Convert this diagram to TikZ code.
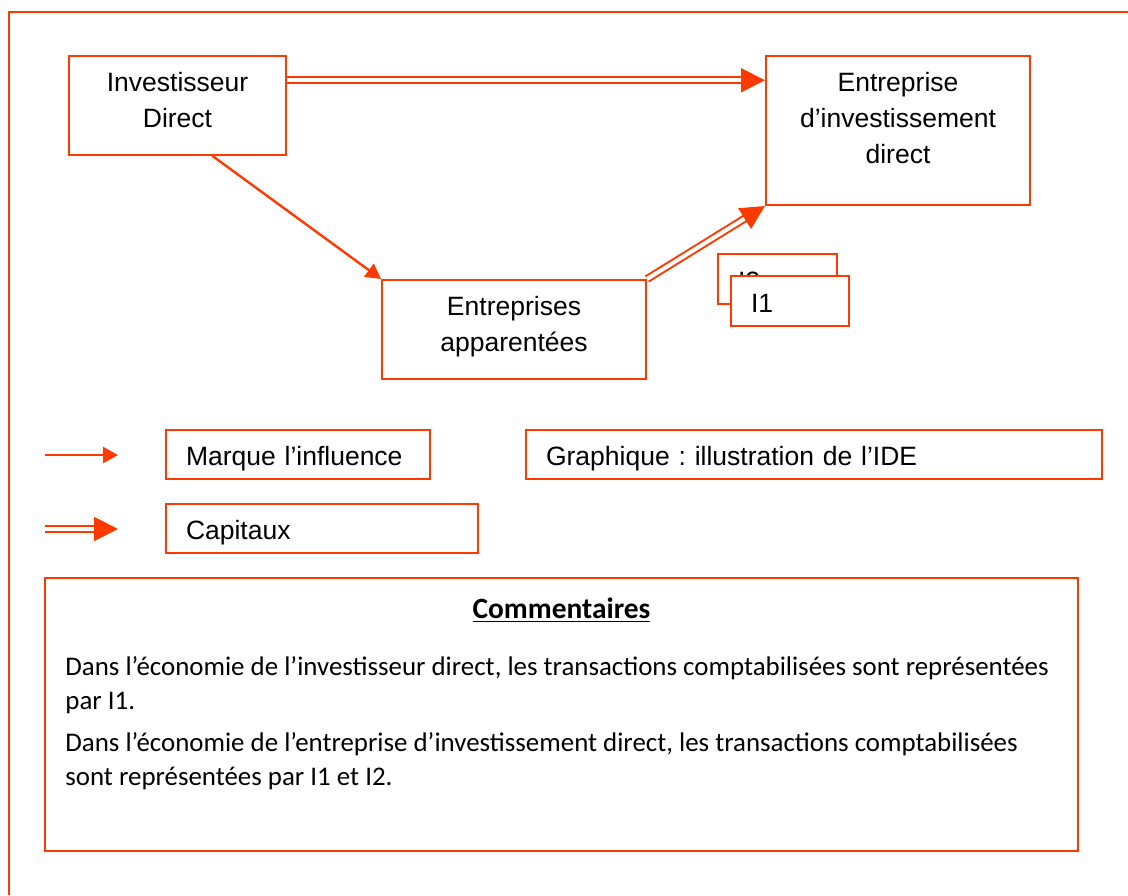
\documentclass[tikz,border=0pt]{standalone}
\usepackage{fontspec}
\setmainfont{Liberation Sans}
\newfontfamily\calibri{Carlito}
\usetikzlibrary{arrows.meta,calc,positioning}
\definecolor{ideorange}{RGB}{255,58,0}
\tikzset{
  boite/.style={draw=ideorange, line width=1pt, fill=white, inner sep=0pt},
  texte/.style={inner sep=0pt, align=center, font=\fontsize{13.25}{18}\selectfont},
  legende/.style={boite, texte, align=left, inner xsep=10pt, minimum height=24.5pt,
    text height=12pt, text depth=1pt},
  influence/.style={draw=ideorange, line width=1.2pt,
    -{Triangle[length=7.5pt,width=8pt]}},
  capital/.style={draw=ideorange, line width=1pt, double=white,
    double distance=2pt, -{Triangle[length=12pt,width=12pt]}},
}

\begin{document}
\frenchspacing
\begin{tikzpicture}[x=0.5pt,y=-0.5pt]
  \useasboundingbox (0,0) rectangle (1128,895);
  % cadre
  \draw[ideorange, line width=1pt] (1128,12) -- (9,12) -- (9,895);

  % schema
  \node[boite, minimum width=108.5pt, minimum height=49.5pt] (inv) at (177.5,105.5) {};
  \node[boite, minimum width=132pt, minimum height=74.5pt] (ent) at (898,130.5) {};
  \node[boite, minimum width=132pt, minimum height=49.5pt] (app) at (514,329.5) {};
  \node[texte, below=8.3pt of inv.north] (t-inv) {Investisseur\\Direct};
  \node[texte, below=8.3pt of ent.north] (t-ent) {Entreprise\\d’investissement\\direct};
  \node[texte, below=8.3pt of app.north] (t-app) {Entreprises\\apparentées};
  \node[legende, text width=39.5pt, minimum height=25pt] (i2) at (777.5,279) {I2};
  \node[legende, text width=39pt, minimum height=25pt] (i1) at (790,301) {I1};

  \coordinate (c1) at ($(inv.north east)!0.25!(inv.south east)$);
  \coordinate (c2) at ($(inv.south west)!0.66!(inv.south east)$);
  \draw[capital] (c1) -- (c1 -| ent.west);
  \draw[influence] (c2) -- (app.north west);
  \draw[capital] (app.north east) -- (ent.south west);

  % legende
  \coordinate (l1a) at (45,455);
  \coordinate (l1b) at (118,455);
  \coordinate (l2a) at (45,529);
  \coordinate (l2b) at (118,529);
  \draw[influence] (l1a) -- (l1b);
  \draw[capital] (l2a) -- (l2b);
  \node[legende, text width=112pt] (marque) at (298,454.5) {Marque l’influence};
  \node[legende, text width=268pt] (graph) at (814,454.5) {Graphique : illustration de l’IDE};
  \node[legende, text width=136pt] (capx) at (322,528.5) {Capitaux};

  % commentaires
  \node[boite, minimum width=516.5pt, minimum height=136.5pt] (comm) at (561.5,714.5) {};
  \node[font=\calibri\fontsize{14.7}{17}\selectfont\bfseries, inner sep=0pt] (titre) at ($(comm.north)+(0,33)$) {\underline{Commentaires}};
  \node[anchor=north west, align=left, inner sep=0pt, font=\calibri\fontsize{13.45}{17}\selectfont] (corps)
    at ($(comm.north west)+(21,79)$)
    {Dans l’économie de l’investisseur direct, les transactions comptabilisées sont représentées\\
     par I1.\\[4pt]
     Dans l’économie de l’entreprise d’investissement direct, les transactions comptabilisées\\
     sont représentées par I1 et I2.};
\end{tikzpicture}
\end{document}
